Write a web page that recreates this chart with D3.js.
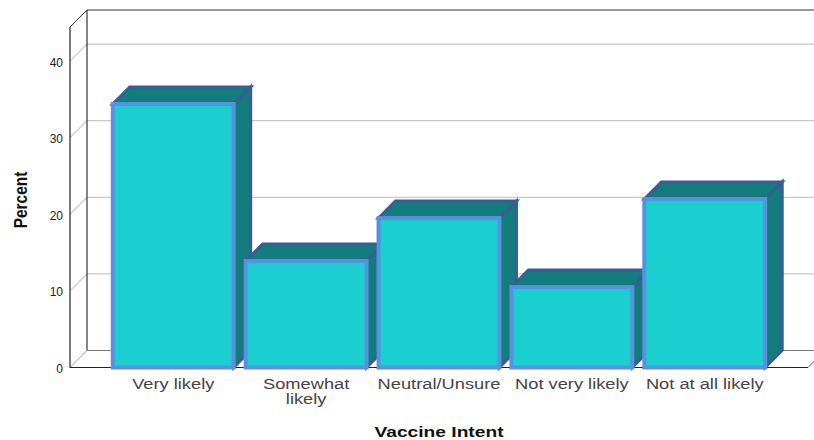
<!DOCTYPE html>
<html><head><meta charset="utf-8">
<script src="https://cdn.jsdelivr.net/npm/d3@7"></script>
<style>html,body{margin:0;padding:0;background:#fff}svg{display:block}text{font-family:"Liberation Sans",Arial,sans-serif}</style>
</head><body><svg id="c" width="814" height="440"></svg>
<script>
const categories = ["Very likely","Somewhat likely","Neutral/Unsure","Not very likely","Not at all likely"];
const percents = [34.4,13.9,19.5,10.5,22.0];
const yTicks = [0,10,20,30,40];
const xTitle = "Vaccine Intent", yTitle = "Percent";

const depth = 17, plotL = 70, plotR = 808, plotB = 367.5, plotT = 27;
const svg = d3.select("#c");
const x = d3.scaleBand().domain(categories).range([plotL,plotR]).paddingInner(0.09).paddingOuter(0.322);
const y = d3.scaleLinear().domain([0,44.45]).range([plotB,plotT]);

// walls
const line = (a,b,c,d,col,w=1)=>svg.append("line").attr("x1",a).attr("y1",b).attr("x2",c).attr("y2",d).attr("stroke",col).attr("stroke-width",w);
svg.append("g").selectAll("g").data(yTicks.filter(d=>d>0)).join("g").each(function(d){
  const g=d3.select(this), yy=y(d);
  g.append("path").attr("fill","none").attr("stroke","#c9c9c9").attr("stroke-width",1.2)
   .attr("d",`M${plotL},${yy}L${plotL+depth},${yy-depth}L${814},${yy-depth}`);
});
line(plotL+depth,plotT-depth,814,plotT-depth,"#777",1.3);
line(plotL,plotT,plotL+depth,plotT-depth,"#333",1);
line(plotL+depth,plotT-depth,plotL+depth,plotB-depth,"#333",1.2);
line(plotL,plotB,plotL+depth,plotB-depth,"#999",1);
line(plotL+depth,plotB-depth,814,plotB-depth,"#777",1);
line(plotL,plotT,plotL,plotB,"#222",1.2);
line(plotL,plotB,plotR,plotB,"#222",1.2);
line(plotR,plotB,plotR+depth,plotB-depth,"#555",1);

// axis labels
const ax = svg.append("g").attr("transform",`translate(${plotL},0)`)
  .call(d3.axisLeft(y).tickValues(yTicks).tickSize(0).tickPadding(7));
ax.select(".domain").remove();
ax.selectAll("text").attr("font-size",12).attr("dy","0.42em").attr("fill","#222").style("font-family","'Liberation Sans',Arial,sans-serif");

// bars
const bars = svg.append("g").selectAll("g").data(categories.map((c,i)=>({c,v:percents[i]}))).join("g");
const sw=4;
bars.each(function(d){
  const g=d3.select(this), x0=x(d.c), x1=x0+x.bandwidth(), y0=y(d.v), y1=y(0);
  g.append("path").attr("fill","#137c7d").attr("stroke","#3a5d96").attr("stroke-width",3)
   .attr("d",`M${x0},${y0}L${x0+depth},${y0-depth}L${x1+depth},${y0-depth}L${x1},${y0}Z`);
  g.append("path").attr("fill","#137c7d").attr("stroke","#3a5d96").attr("stroke-width",3)
   .attr("d",`M${x1},${y0}L${x1+depth},${y0-depth}L${x1+depth},${y1-depth}L${x1},${y1}Z`);
  g.append("rect").attr("x",x0).attr("y",y0).attr("width",x.bandwidth()).attr("height",y1-y0)
   .attr("fill","#1bcfd0").attr("stroke","#5a90e0").attr("stroke-width",sw);
});

// x labels
const wrapped = {"Somewhat likely":["Somewhat","likely"]};
svg.append("g").selectAll("text").data(categories).join("text")
  .attr("transform",d=>`translate(${x(d)+x.bandwidth()/2},388.5) scale(1.26,1)`).attr("text-anchor","middle")
  .attr("font-size",14.5).attr("fill","#444")
  .each(function(d){
    const t=d3.select(this);
    (wrapped[d]||[d]).forEach((s,i)=>t.append("tspan").attr("x",0).attr("dy",i?16:0).text(s));
  });
svg.append("text").attr("transform","translate(439,436.5) scale(1.28,1)").attr("text-anchor","middle")
  .attr("font-size",15).attr("font-weight","bold").attr("fill","#111").text(xTitle);
svg.append("text").attr("transform","translate(27,200) rotate(-90) scale(0.86,1)").attr("text-anchor","middle")
  .attr("font-size",18).attr("font-weight","bold").attr("fill","#111").text(yTitle);
</script></body></html>
